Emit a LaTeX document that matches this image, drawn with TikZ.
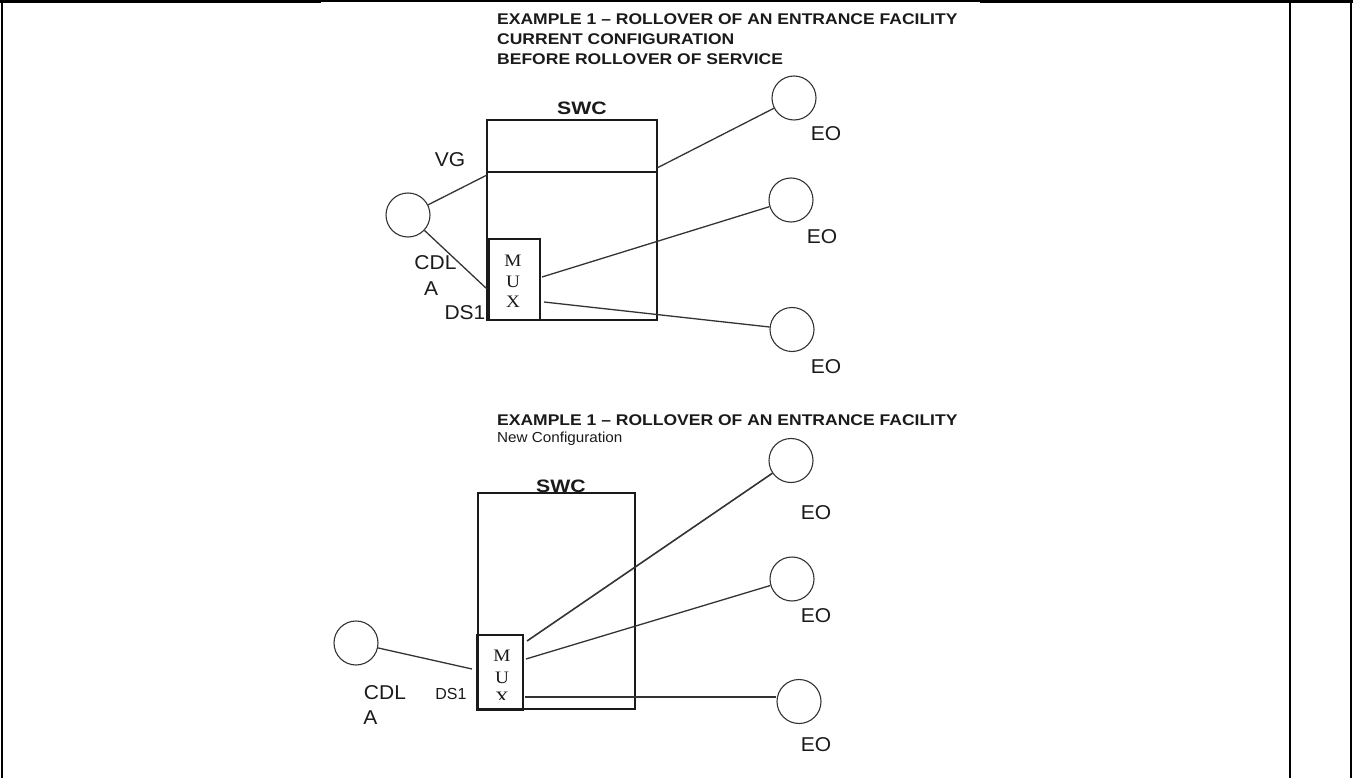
\documentclass[tikz,border=0pt]{standalone}
\usepackage{fontspec}
\setmainfont{Liberation Sans}
\newfontfamily\muxfont{Liberation Serif}
\usepackage{graphicx}
\newcommand{\hs}[2]{\scalebox{#1}[1]{#2}}
\definecolor{ink}{HTML}{1A1A1A}
\definecolor{wire}{HTML}{333333}
\begin{document}
\begin{tikzpicture}[x=1pt,y=-1pt,
  frame/.style={line width=2.6pt,draw=black},
  thinframe/.style={line width=1.4pt,draw=black},
  ttl/.style={font=\bfseries\fontsize{15.5}{15.5}\selectfont,inner sep=0,anchor=base west,text=ink},
  sub/.style={font=\fontsize{14.5}{14.5}\selectfont,inner sep=0,anchor=base west,text=ink},
  swcl/.style={font=\bfseries\fontsize{18}{18}\selectfont,inner sep=0,text=ink},
  lbl/.style={font=\fontsize{20}{20}\selectfont,inner sep=0,text=ink},
  smalllbl/.style={font=\fontsize{16}{16}\selectfont,inner sep=0,text=ink},
  muxl/.style={font=\muxfont\fontsize{17.5}{17.5}\selectfont,inner sep=0,text=ink},
  circ/.style={circle,draw=wire,line width=1.1pt,minimum size=44pt,inner sep=0},
  boxn/.style={rectangle,draw=ink,line width=1.2pt,inner sep=0},
  link/.style={draw=wire,line width=1.3pt},
]
\useasboundingbox (0,0) rectangle (1353,778);
% outer frame
\draw[frame] (0,1.5) -- (321,1.5);
\draw[thinframe] (321,1.2) -- (980,1.2);
\draw[frame] (980,1.5) -- (1353,1.5);
\draw[frame] (2,0) -- (2,778);
\draw[frame] (1290,0) -- (1290,778);
\draw[frame] (1351,0) -- (1351,778);

% ---------------- top example ----------------
\node[ttl] (t1) at (497,24.3) {\hs{1.13}{EXAMPLE 1 – ROLLOVER OF AN ENTRANCE FACILITY}};
\node[ttl] (t2) at (497,44.3) {\hs{1.13}{CURRENT CONFIGURATION}};
\node[ttl] (t3) at (497,64.3) {\hs{1.13}{BEFORE ROLLOVER OF SERVICE}};

\node[swcl] (s1) at (582,108.5) {\hs{1.18}{SWC}};
\node[boxn,minimum width=170pt,minimum height=200pt] (swc1) at (572,220) {};
\coordinate (dv) at (0,172);
\draw[boxn] (swc1.west |- dv) -- (swc1.east |- dv);
\node[boxn,minimum width=51pt,minimum height=81pt] (mux1) at (514.5,279.5) {};
\draw[line width=2.2pt,draw=ink] (mux1.north west) -- (mux1.south west);
\node[muxl] (m1M) at (513,261) {\hs{1.1}{M}};
\node[muxl] (m1U) at (513,282) {\hs{1.1}{U}};
\node[muxl] (m1X) at (513,302) {\hs{1.1}{X}};

\node[circ] (cA) at (408,215) {};
\node[lbl] (vg) at (450,160) {\hs{1.05}{VG}};
\node[lbl] (cdl1) at (435.5,262.5) {\hs{1.05}{CDL}};
\node[lbl] (a1) at (431,289) {\hs{1.05}{A}};
\node[lbl] (ds1) at (465,313) {\hs{1.05}{DS1}};

\node[circ] (cE1) at (794,98) {};
\node[circ] (cE2) at (791,200) {};
\node[circ] (cE3) at (792,329.5) {};
\node[lbl] (eo1) at (826,133.5) {\hs{1.05}{EO}};
\node[lbl] (eo2) at (822,236.5) {\hs{1.05}{EO}};
\node[lbl] (eo3) at (826,366.5) {\hs{1.05}{EO}};

\coordinate (vgE) at (487,175);
\coordinate (dsE) at (487,289);
\coordinate (r1) at (657,168);
\coordinate (m1a) at (542,277);
\coordinate (m1b) at (544,302);
\draw[link] (cA) -- (vgE);
\draw[link] (cA) -- (dsE);
\draw[link] (r1) -- (cE1);
\draw[link] (m1a) -- (cE2);
\draw[link] (m1b) -- (cE3);

% ---------------- bottom example ----------------
\node[ttl] (t4) at (497,425) {\hs{1.13}{EXAMPLE 1 – ROLLOVER OF AN ENTRANCE FACILITY}};
\node[sub] (t5) at (497,442) {\hs{1.05}{New Configuration}};

\node[swcl] (s2) at (561,486.5) {\hs{1.18}{SWC}};
\node[boxn,minimum width=157pt,minimum height=216pt] (swc2) at (556.5,601) {};
\node[boxn,minimum width=45pt,minimum height=74pt] (mux2) at (500.5,672) {};
\draw[line width=2.2pt,draw=ink] (mux2.north west) -- (mux2.south west) -- (mux2.south east);
\node[muxl] (m2M) at (502,656) {\hs{1.1}{M}};
\node[muxl] (m2U) at (502,677.5) {\hs{1.1}{U}};
\begin{scope}
  \clip (480,688) rectangle (521,699);
  \node[muxl] (m2X) at (502,698) {\hs{1.1}{X}};
\end{scope}

\node[circ] (cB) at (356,643) {};
\node[lbl] (cdl2) at (385,692.5) {\hs{1.05}{CDL}};
\node[lbl] (a2) at (370.5,718) {\hs{1.05}{A}};
\node[smalllbl] (ds2) at (451,693.5) {DS1};

\node[circ] (cE4) at (791,460.5) {};
\node[circ] (cE5) at (792,579) {};
\node[circ] (cE6) at (799,701.5) {};
\node[lbl] (eo4) at (816,512.5) {\hs{1.05}{EO}};
\node[lbl] (eo5) at (816,615.5) {\hs{1.05}{EO}};
\node[lbl] (eo6) at (816,744.5) {\hs{1.05}{EO}};

\coordinate (dsE2) at (472,669);
\coordinate (m2a) at (527,641);
\coordinate (m2b) at (526,659);
\coordinate (m2c) at (525,697);
\draw[link] (cB) -- (dsE2);
\draw[link,line width=1.6pt] (m2a) -- (cE4);
\draw[link] (m2b) -- (cE5);
\draw[link] (m2c) -- (m2c -| cE6.west);
\end{tikzpicture}
\end{document}
